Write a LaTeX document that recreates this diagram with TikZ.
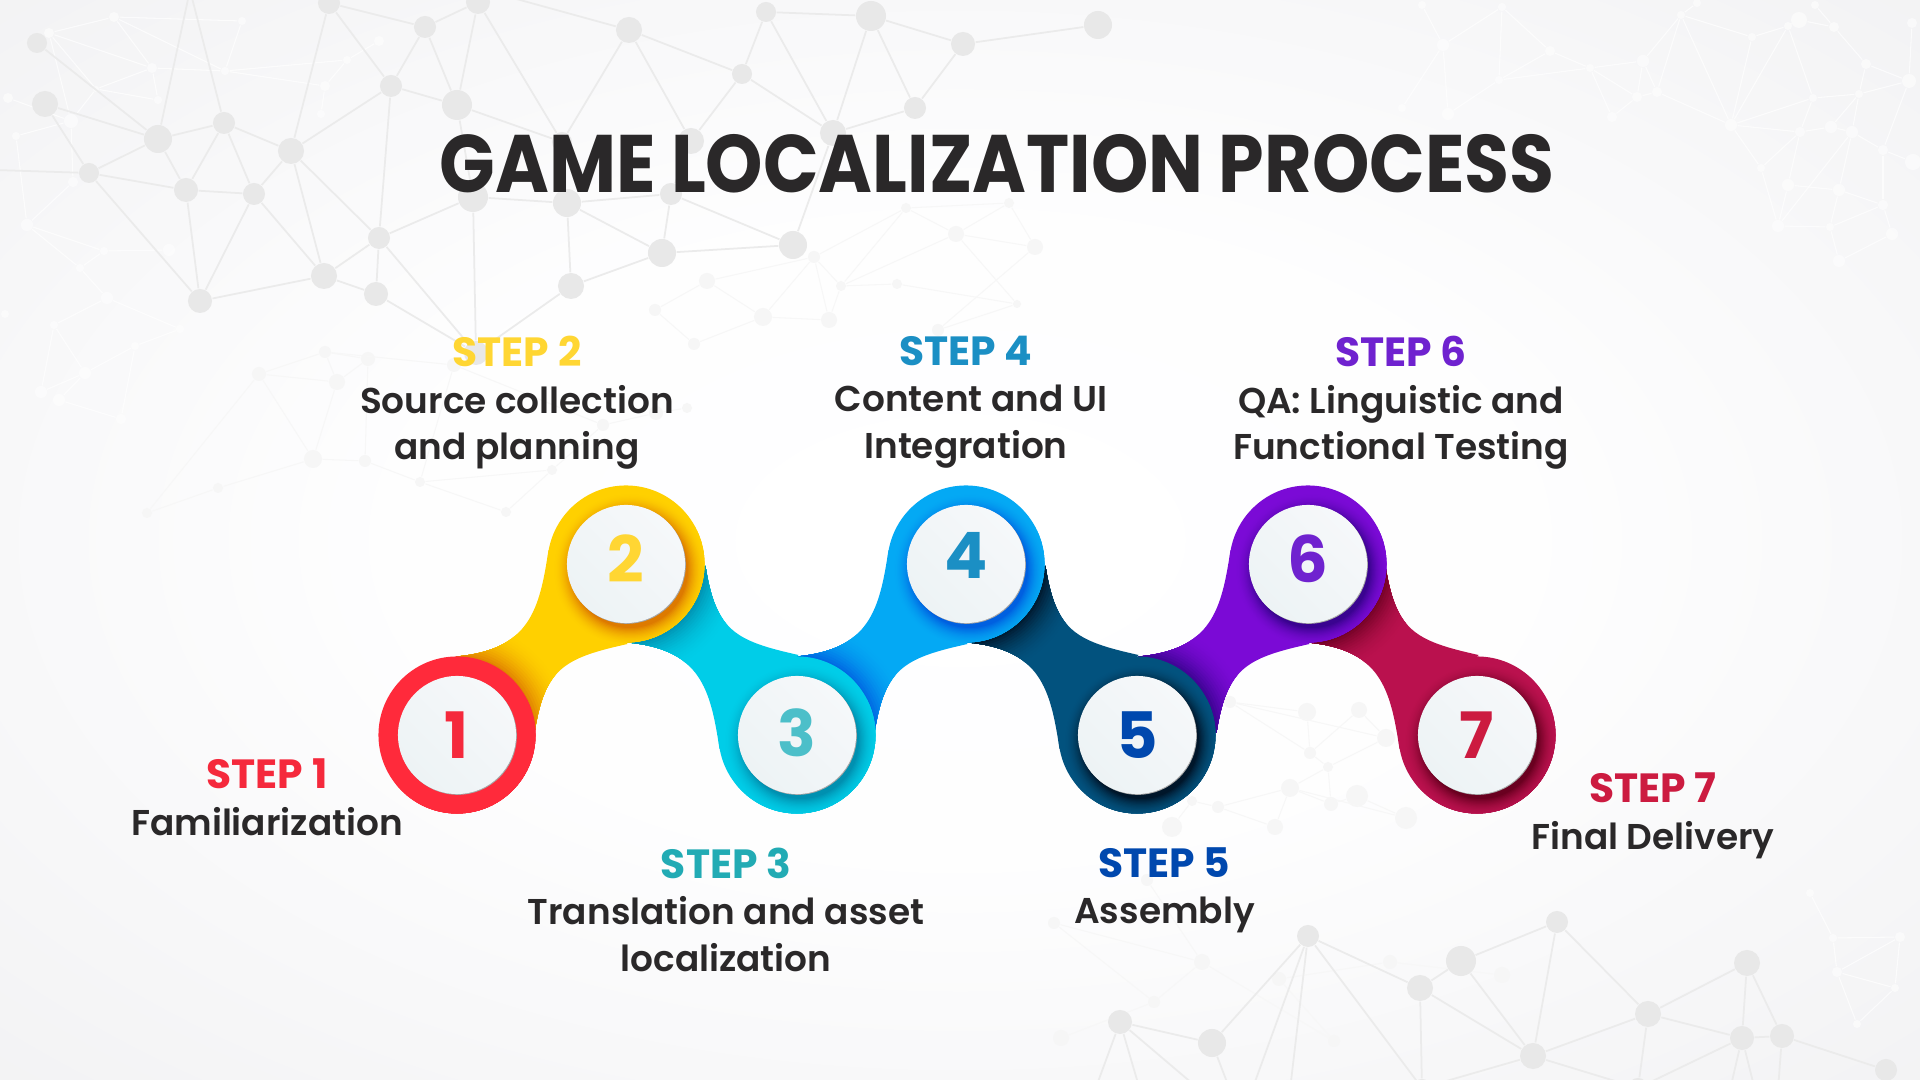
\documentclass[tikz,border=0pt]{standalone}
\usepackage{fontspec}
\setmainfont{Poppins SemiBold}
\newfontfamily\headfont{Poppins}[UprightFont=* Bold]

% Step colours
\definecolor{stepone}{HTML}{FF2A3B}
\definecolor{steptwo}{HTML}{FFD000}
\definecolor{stepthree}{HTML}{00CDE8}
\definecolor{stepfour}{HTML}{04A9F4}
\definecolor{stepfive}{HTML}{02527E}
\definecolor{stepsix}{HTML}{7B0AD6}
\definecolor{stepseven}{HTML}{BA114E}
\definecolor{shadeone}{HTML}{FF2A3B}
\definecolor{shadetwo}{HTML}{DD7A00}
\definecolor{shadethree}{HTML}{0090B0}
\definecolor{shadefour}{HTML}{0060E0}
\definecolor{shadefive}{HTML}{00162A}
\definecolor{shadesix}{HTML}{3A0390}
\definecolor{shadeseven}{HTML}{6A0020}
\definecolor{textone}{HTML}{F5293C}
\definecolor{texttwo}{HTML}{FFD633}
\definecolor{textthree}{HTML}{4CBFC9}
\definecolor{wordthree}{HTML}{22ABB4}
\definecolor{textfour}{HTML}{1B8FC4}
\definecolor{textfive}{HTML}{0048AE}
\definecolor{textsix}{HTML}{6F22CF}
\definecolor{textseven}{HTML}{CC1B40}
\definecolor{inkdark}{HTML}{2A2829}
\definecolor{discleft}{HTML}{F6F8FA}
\definecolor{discright}{HTML}{EDF3F5}

\pgfdeclareradialshading{sheetshade}{\pgfpointorigin}{rgb(0bp)=(1,1,1); rgb(15bp)=(0.995,0.995,0.997); rgb(35bp)=(0.952,0.952,0.958); rgb(50bp)=(0.915,0.918,0.925)}

\newcommand{\ribbonpath}{(-85,7) .. controls (-11.5,0.5) and (-1.5,-39.5) .. (7.5,-99.5) -- (86.5,-5.5) .. controls (23.5,8.5) and (3.5,18.5) .. (-6.5,83.5) -- cycle}
\newcommand{\stepword}[2]{\textcolor{#1}{\headfont\fontsize{11.6}{13.2}\selectfont #2}}
% Soft shadow: circles from #3 down to #2 round #1, from colour #5 to colour #4
\newcommand{\softglow}[5]{%
  \foreach \k in {0,...,16}{
    \pgfmathsetmacro{\rad}{#3-\k*(#3-#2)/16}
    \pgfmathsetmacro{\mixp}{(\k/16)*(\k/16)*100}
    \fill[#4!\mixp!#5] #1 circle (\rad);
  }}

\begin{document}
\begin{tikzpicture}[x=0.01cm,y=-0.01cm]
  \tikzset{
    greydot/.style={circle, fill=black!9, inner sep=0pt},
    greyline/.style={black!8, line width=0.5pt},
    faintdot/.style={circle, fill=black!3.5, inner sep=0pt},
    faintline/.style={black!3, line width=0.3pt},
    paledot/.style={circle, fill=white, fill opacity=0.55, inner sep=0pt},
    paleline/.style={white, opacity=0.7, line width=0.3pt},
    ring node/.style={circle, inner sep=0pt, minimum size=1.57cm},
    disc node/.style={circle, inner sep=0pt, minimum size=1.18cm, left color=discleft, right color=discright, shading angle=-45},
    rim node/.style={circle, inner sep=0pt, minimum size=1.18cm, fill=black!35},
    number node/.style={inner sep=0pt, font=\headfont\fontsize{18.2}{18.2}\selectfont},
    label node/.style={anchor=north, align=center, text=inkdark, font=\fontsize{10.2}{13.2}\selectfont, inner sep=0pt}
  }
  \useasboundingbox (0,0) rectangle (1920,1080);
  \clip (0,0) rectangle (1920,1080);
  \shade[shading=sheetshade] (0,0) rectangle (1920,1080);

  % Faint network behind the text
  \foreach \n/\x/\y/\r in {1/814/257/6,2/707/281/8,3/655/310/6,4/763/317/9,5/829/320/8,6/841/286/5,7/906/208/5,8/1009/203/5,9/956/234/8,10/1035/247/8,11/897/284/5,12/1017/304/4,13/938/330/6,14/694/344/6,15/313/459/9,16/337/382/8,17/368/359/7,18/454/365/7,19/365/461/6,20/420/482/5,21/259/374/7,22/325/352/6,23/552/470/5,24/506/512/5,25/218/488/5,26/147/513/5,27/603/425/6,28/656/413/7,29/687/408/5,30/1054/923/6,31/1147/880/6,32/1202/962/8,33/1061/1038/8,34/1154/1002/6,35/1334/1041/6,36/1390/962/7,37/1502/975/8,38/1279/979/7,39/1230/702/6,40/1307/712/9,41/1359/710/8,42/1386/738/9,43/1310/753/6,44/1328/767/5,45/1290/788/9,46/1331/804/7,47/1357/796/11,48/1406/818/11,49/1275/827/8,50/1218/807/6,51/1192/801/5,52/1172/827/10}
    \node[faintdot, minimum size=\r*0.02cm] (fd\n) at (\x,\y) {};
  \foreach \a/\b in {2/1,1/5,1/6,1/4,2/3,2/4,4/5,5/6,6/7,6/11,6/9,7/1,7/8,7/9,8/9,9/10,8/10,4/14,3/14,11/12,12/13,10/13,9/12,15/19,19/20,15/16,16/17,17/19,16/21,21/22,22/17,22/16,21/15,18/20,20/23,23/24,20/24,27/23,27/28,28/29,18/27,25/15,25/26,26/21,22/18,30/32,31/32,32/34,33/34,30/34,32/35,36/38,36/37,38/35,39/40,39/43,39/42,40/43,41/42,41/43,43/44,44/45,45/46,46/47,47/48,45/49,45/48,49/50,50/51,51/52,50/45,42/44,44/46}
    \draw[faintline] (fd\a) -- (fd\b);

  % Pale network in the corners
  \foreach \n/\x/\y/\r in {1/114/17/5,2/49/33/5,3/152/68/5,4/158/100/4,5/225/71/4,6/242/21/4,7/96/89/3,8/8/98/5,9/16/136/4,10/71/121/7,11/73/182/5,12/27/225/6,13/104/251/4,14/80/268/4,15/107/298/6,16/169/250/6,17/325/86/5,18/347/60/4,19/379/41/5,20/321/114/4,21/85/373/6,22/41/392/6,23/59/400/6,24/121/419/5,25/180/329/4,26/135/346/4,27/54/325/4,28/5/314/4,31/1422/5/4,32/1502/7/4,33/1443/45/6,34/1550/51/5,35/1499/80/4,36/1448/114/6,37/1402/108/4,38/1590/68/4,39/1643/61/6,40/1637/97/5,41/1657/92/5,42/1612/117/5,43/1681/15/4,44/1697/3/4,45/1752/37/4,46/1788/26/4,47/1799/20/8,48/1834/27/5,49/1815/5/4,50/1866/64/5,51/1912/23/5,52/1909/81/7,53/1813/98/4,54/1859/94/4,55/1731/125/6,56/1800/132/5,57/1831/127/6,58/1852/132/6,59/1761/168/4,60/1883/150/5,61/1788/185/6,62/1839/190/6,63/1883/205/5,64/1778/226/6,65/1830/227/4,66/1839/261/6,67/1892/234/6,68/1913/162/8,71/1810/893/4,72/1833/938/4,73/1900/937/5,74/1837/972/5,75/1895/988/4,76/1857/1024/4}
    \node[paledot, minimum size=\r*0.02cm] (pd\n) at (\x,\y) {};
  \foreach \a/\b in {1/2,1/3,2/3,3/4,3/5,5/6,3/7,7/4,7/2,7/10,2/10,8/10,9/10,10/11,11/12,12/13,13/14,14/15,12/14,13/16,15/27,15/25,27/21,25/26,26/21,21/22,21/23,22/27,23/24,24/26,9/12,17/18,18/19,17/5,17/20,5/18,1/5,6/1,31/33,32/33,32/34,33/37,33/36,35/36,34/35,32/35,34/38,35/38,38/39,38/40,38/42,40/42,40/41,39/41,39/40,39/43,43/44,41/43,41/55,43/55,43/45,45/46,46/47,47/48,48/49,46/55,48/50,50/52,50/54,45/55,53/55,53/56,53/46,54/53,54/57,54/58,54/52,55/56,55/59,56/57,56/59,57/58,58/60,60/68,58/62,58/64,59/64,56/61,61/62,61/64,62/63,62/65,63/65,64/65,65/66,66/67,63/67,51/52,52/60,60/63,71/72,72/73,72/74,73/74,74/75,74/76,73/75,75/76}
    \draw[paleline] (pd\a) -- (pd\b);

  % Grey network
  \foreach \n/\x/\y/\r in {1/329/3/11,2/425/27/11,3/478/2/12,4/629/30/13,5/391/86/11,6/457/105/15,7/45/104/13,8/37/43/10,9/158/139/14,10/224/123/11,11/291/151/13,12/89/173/10,13/186/190/12,14/254/194/11,15/473/197/15,16/567/203/14,17/671/194/11,18/562/142/10,19/691/141/13,20/379/238/11,21/324/276/13,22/376/294/12,23/200/301/12,24/662/253/14,25/571/286/13,26/742/74/10,27/766/12/10,28/871/16/15,29/963/44/12,30/1098/25/14,31/915/108/11,32/833/133/13,33/793/245/14,34/476/353/12,35/190/-10/2,36/491/-8/2,37/-5/170/2,38/1120/1022/12,39/1212/1043/14,40/1308/936/11,41/1420/988/13,42/1461/961/15,43/1557/922/11,44/1533/1056/13,45/1648/1014/13,46/1747/963/13,47/1742/1038/12,48/1782/1036/12,49/1886/1070/11,50/1422/1088/9,51/1638/1088/10,52/1290/1090/2,53/1252/1090/2,54/1095/1090/2,55/1140/1090/2,56/1200/1090/2,57/1230/1090/2,58/1730/1090/2,59/1755/1090/2,60/1778/1090/2}
    \node[greydot, minimum size=\r*0.02cm] (gd\n) at (\x,\y) {};
  \foreach \a/\b in {1/5,1/11,1/2,2/5,2/6,2/3,3/6,3/18,5/6,5/11,5/20,6/18,4/18,4/19,4/36,4/26,26/19,26/32,26/27,27/32,27/28,28/29,28/31,28/32,29/30,29/31,31/32,9/10,10/11,10/13,10/14,9/13,9/12,12/13,13/14,14/11,14/21,14/23,13/23,11/21,11/20,20/21,20/22,21/22,21/23,12/23,7/9,8/9,7/12,10/35,9/35,12/37,20/15,15/16,16/17,16/24,24/25,25/16,17/24,24/33,33/17,33/32,15/6,19/17,15/34,25/34,20/34,22/34,38/39,39/40,40/41,41/42,42/43,43/44,43/45,41/44,42/44,41/50,40/50,44/45,44/51,45/46,45/47,46/47,46/48,47/48,47/51,48/49,44/50,45/51,40/52,40/53,38/54,38/55,38/56,39/57,47/58,47/59,48/60}
    \draw[greyline] (gd\a) -- (gd\b);

  % Title
  \node[inner sep=0pt, text=inkdark, font=\headfont\fontsize{23.2}{23.2}\selectfont] (title) at (997,163.5) {\scalebox{0.895}[1]{GAME LOCALIZATION PROCESS}};

  % Steps, last one first so that each circle lies over the next ribbon
  \foreach \i/\x/\y/\flip/\lift/\main/\dark/\ink in {7/1477/735/-1/0/stepseven/shadeseven/textseven,6/1308/564/1/-5/stepsix/shadesix/textsix,5/1137/735/-1/0/stepfive/shadefive/textfive,4/966/564/1/-9/stepfour/shadefour/textfour,3/797/735/-1/-2/stepthree/shadethree/textthree,2/626/564/1/-5/steptwo/shadetwo/texttwo,1/457/735/1/0/stepone/shadeone/textone}{
    \ifnum\i>1
      \begin{scope}[shift={(\x-85,\y+\flip*85.5)}, yscale=\flip]
        \fill[\main] \ribbonpath;
        \begin{scope}
          \clip \ribbonpath;
          \softglow{(-85,85.5)}{78}{118}{\dark}{\main}
        \end{scope}
      \end{scope}
    \fi
    \node[ring node, fill=\main] (ring\i) at (\x,\y) {};
    \begin{scope}
      \clip (\x,\y) circle (78.5);
      \softglow{(\x+4,\y+6)}{58}{78}{\dark}{\main}
    \end{scope}
    \node[rim node] (rim\i) at (\x+0.8,\y+0.8) {};
    \node[disc node] (disc\i) at (\x,\y) {};
    \node[number node, text=\ink] (num\i) at (\x,\y+\lift) {\i};
  }

  % Labels
  \node[label node] (label1) at (267,758.5) {\stepword{textone}{STEP 1}\\Familiarization};
  \node[label node] (label2) at (517,335.5) {\stepword{texttwo}{STEP 2}\\Source collection\\and planning};
  \node[label node] (label3) at (726,847) {\stepword{wordthree}{STEP 3}\\Translation and asset\\localization};
  \node[label node] (label4) at (966,335.5) {\stepword{textfour}{STEP 4}\\\hspace*{2.8pt}Content and UI\\Integration};
  \node[label node] (label5) at (1164.5,847) {\stepword{textfive}{STEP 5}\\Assembly};
  \node[label node] (label6) at (1401,335.5) {\stepword{textsix}{STEP 6}\\QA: Linguistic and\\Functional Testing};
  \node[label node] (label7) at (1653,772.5) {\stepword{textseven}{STEP 7}\\Final Delivery};
\end{tikzpicture}
\end{document}
